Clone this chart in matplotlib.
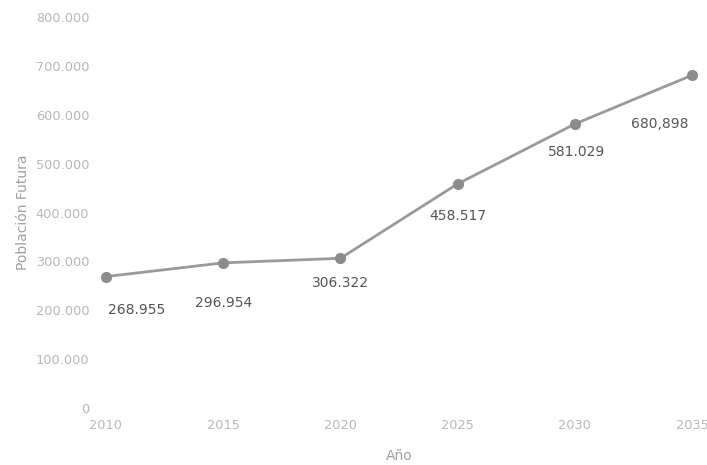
import matplotlib.pyplot as plt

# Proyección de población
anios = [2010, 2015, 2020, 2025, 2030, 2035]
poblacion = [268955, 296954, 306322, 458517, 581029, 680898]
etiquetas = ['268.955', '296.954', '306.322', '458.517', '581.029', '680,898']
y_ticks = [0, 100000, 200000, 300000, 400000, 500000, 600000, 700000, 800000]
y_tick_labels = ['0', '100.000', '200.000', '300.000', '400.000',
                 '500.000', '600.000', '700.000', '800.000']

fig = plt.figure(figsize=(7.07, 4.65), dpi=100)
ax = fig.add_axes([106 / 707, 57 / 465, 586 / 707, 391 / 465])

ax.plot(anios, poblacion, color='#9a9a9a', linewidth=2,
        marker='o', markersize=7, markerfacecolor='#8c8c8c',
        markeredgecolor='#8c8c8c', clip_on=False, zorder=3)

# Posición de cada etiqueta respecto a su punto (en puntos)
desplazamientos = [(22, -24), (0, -29), (0, -18), (0, -23), (1, -20), (-23, -35)]
for x, y, txt, d in zip(anios, poblacion, etiquetas, desplazamientos):
    ax.annotate(txt, (x, y), xytext=d, textcoords='offset points',
                ha='center', va='center', fontsize=10, color='#555555')

ax.set_xlim(2010, 2035)
ax.set_ylim(0, 800000)
ax.set_xticks(anios)
ax.set_xticklabels([str(a) for a in anios])
ax.set_yticks(y_ticks)
ax.set_yticklabels(y_tick_labels)
ax.tick_params(length=0, labelsize=9.3, labelcolor='#b8b8b8')
ax.tick_params(axis='y', pad=12)
ax.tick_params(axis='x', pad=8)

for s in ax.spines.values():
    s.set_visible(False)

ax.set_xlabel('Año', fontsize=10, color='#a0a0a0', labelpad=12)
ax.set_ylabel('Población Futura', fontsize=10, color='#a0a0a0', labelpad=4)

plt.savefig('out.png', dpi=100)
